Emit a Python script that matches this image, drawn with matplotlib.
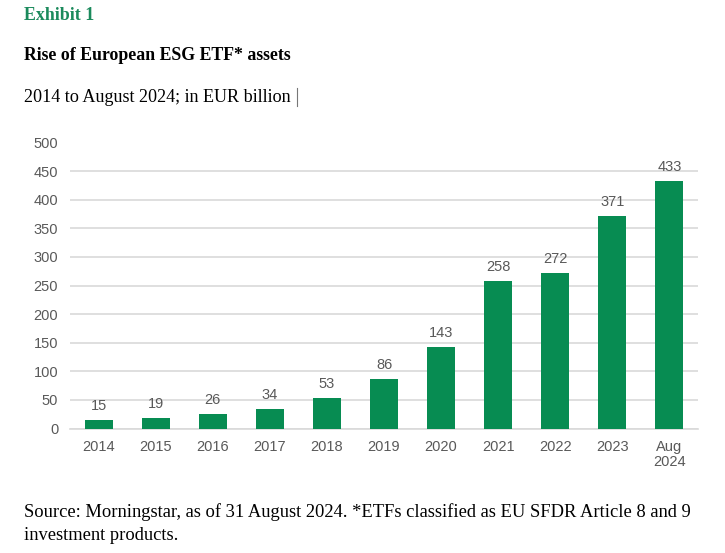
import matplotlib
matplotlib.use("Agg")
import matplotlib.pyplot as plt
from matplotlib.lines import Line2D

categories = ["2014", "2015", "2016", "2017", "2018", "2019", "2020", "2021", "2022", "2023", "Aug\n2024"]
values = [15, 19, 26, 34, 53, 86, 143, 258, 272, 371, 433]
yticks = [0, 50, 100, 150, 200, 250, 300, 350, 400, 450, 500]

GREEN = "#078c52"
TXT = "#595959"

fig = plt.figure(figsize=(7.25, 5.53), dpi=100)
fig.patch.set_facecolor("white")

W, H = 725, 553
def fx(px): return px / W
def fy(py): return 1 - py / H

fig.text(fx(24), fy(16), "Exhibit 1", family="Liberation Serif", fontweight="bold",
         fontsize=12.9, color="#1b8a5c", va="center", ha="left")
fig.text(fx(24), fy(56), "Rise of European ESG ETF* assets", family="Liberation Serif",
         fontweight="bold", fontsize=12.8, color="black", va="center", ha="left")
fig.text(fx(24), fy(97), "2014 to August 2024; in EUR billion", family="Liberation Serif",
         fontsize=13.1, color="black", va="center", ha="left")
fig.add_artist(Line2D([fx(297), fx(297)], [fy(88), fy(106)], color="#777777", linewidth=0.8))
fig.text(fx(24), fy(512), "Source: Morningstar, as of 31 August 2024. *ETFs classified as EU SFDR Article 8 and 9",
         family="Liberation Serif", fontsize=13.3, color="black", va="center", ha="left")
fig.text(fx(24), fy(535), "investment products.",
         family="Liberation Serif", fontsize=13.3, color="black", va="center", ha="left")

ax = fig.add_axes([fx(70), fy(428.5), fx(698) - fx(70), fy(142.5) - fy(428.5)])
x = list(range(len(categories)))
ax.bar(x, values, width=0.49, color=GREEN, zorder=3)
ax.set_xlim(-0.5, len(categories) - 0.5)
ax.set_ylim(0, 500)
ax.set_yticks(yticks)
ax.set_yticklabels([str(t) for t in yticks], family="Liberation Sans", fontsize=10.5, color=TXT)
ax.set_xticks(x)
ax.set_xticklabels(categories, family="Liberation Sans", fontsize=10.5, color=TXT, linespacing=1.1)
ax.grid(axis="y", color="#d9d9d9", linewidth=1.2, zorder=0)
for s in ["top", "right", "left"]:
    ax.spines[s].set_visible(False)
ax.spines["bottom"].set_color("#d9d9d9")
ax.spines["bottom"].set_linewidth(1.2)
ax.tick_params(axis="both", length=0)
ax.tick_params(axis="y", pad=8.5)
ax.tick_params(axis="x", pad=8)
for xi, v in zip(x, values):
    ax.annotate(str(v), (xi, v), xytext=(0, 5), textcoords="offset points",
                ha="center", va="bottom", family="Liberation Sans", fontsize=10.5, color=TXT)

fig.savefig("out.png", dpi=100)
